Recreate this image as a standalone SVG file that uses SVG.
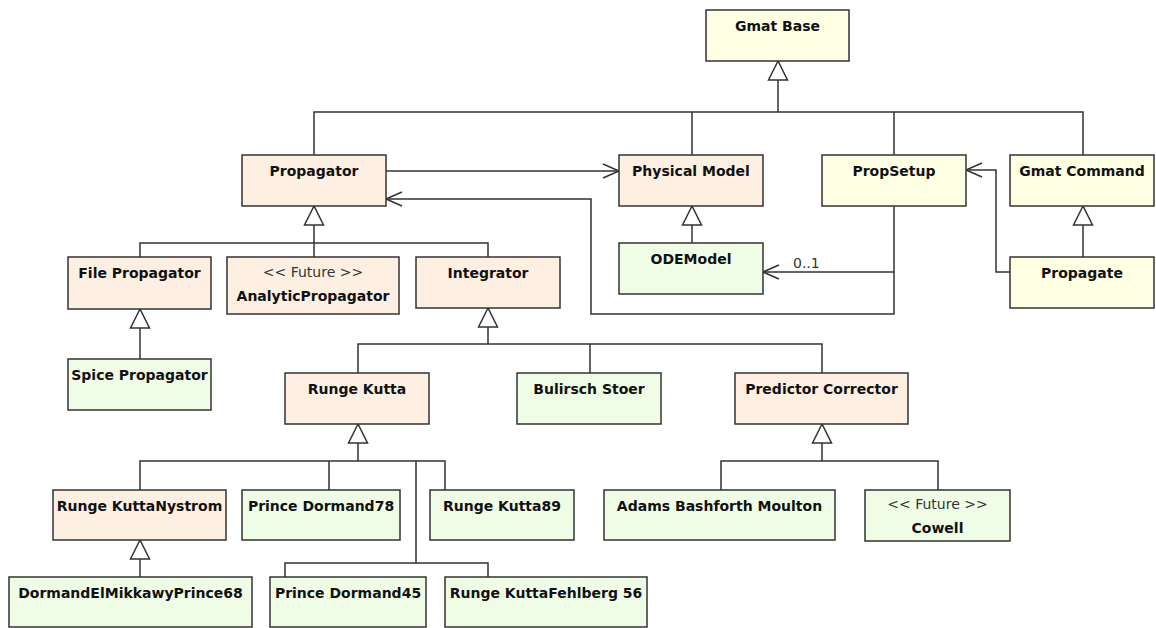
<svg xmlns="http://www.w3.org/2000/svg" width="1156" height="628" viewBox="0 0 1156 628">
  <defs>
    <style>
      .box { stroke: #333; stroke-width: 1.5; }
      .peach { fill: #FDF0E3; }
      .yellow { fill: #FFFFE3; }
      .green { fill: #F0FDE6; }
      .title { font-family: "DejaVu Sans", "Liberation Sans", sans-serif; font-weight: bold; font-size: 14px; fill: #111; text-anchor: middle; }
      .stereo { font-family: "DejaVu Sans", "Liberation Sans", sans-serif; font-size: 14px; fill: #333; text-anchor: middle; }
      .mult { font-family: "DejaVu Sans", "Liberation Sans", sans-serif; font-size: 14px; fill: #333; }
      .wire { fill: none; stroke: #333; stroke-width: 1.5; }
      .gen { fill: #fff; stroke: #333; stroke-width: 1.5; }
      .open { fill: none; stroke: #333; stroke-width: 1.5; }
    </style>
  </defs>
  <rect width="1156" height="628" fill="#fff"/>

  <!-- connectors -->
  <g id="connectors">
    <!-- inheritance from GmatBase -->
    <path class="wire" d="M314,155 V112 H1083 V155 M692,155 V112 M894,155 V112 M778,112 V80"/>
    <polygon class="gen" points="778,61 768.5,80 787.5,80"/>

    <!-- Propagator uses PhysicalModel -->
    <path class="wire" d="M386,171 H619"/>
    <polyline class="open" points="603,164 619,171 603,178"/>

    <!-- PropSetup references Propagator -->
    <path class="wire" d="M894,206 V314 H591 V199 H386"/>
    <polyline class="open" points="402,192 386,199 402,206"/>

    <!-- PropSetup references ODEModel -->
    <path class="wire" d="M894,272 H763"/>
    <polyline class="open" points="779,265 763,272 779,279"/>
    <text class="mult" x="793" y="268">0..1</text>

    <!-- Propagate references PropSetup -->
    <path class="wire" d="M1010,272 H996 V170 H966"/>
    <polyline class="open" points="982,163 966,170 982,177"/>

    <!-- GmatCommand <- Propagate -->
    <polygon class="gen" points="1083,206 1073.5,225 1092.5,225"/>
    <path class="wire" d="M1083,225 V257"/>

    <!-- PhysicalModel <- ODEModel -->
    <polygon class="gen" points="692,206 682.5,225 701.5,225"/>
    <path class="wire" d="M692,225 V243"/>

    <!-- Propagator subclasses -->
    <polygon class="gen" points="314,206 304.5,225 323.5,225"/>
    <path class="wire" d="M314,225 V257 M140,257 V243 H488 V257"/>

    <!-- FilePropagator <- SpicePropagator -->
    <polygon class="gen" points="140,309 130.5,328 149.5,328"/>
    <path class="wire" d="M140,328 V359"/>

    <!-- Integrator subclasses -->
    <polygon class="gen" points="488,308 478.5,327 497.5,327"/>
    <path class="wire" d="M488,327 V344 M358,373 V344 H822 V373 M590,344 V373"/>

    <!-- RungeKutta subclasses -->
    <polygon class="gen" points="358,424 348.5,443 367.5,443"/>
    <path class="wire" d="M358,443 V461 M140,490 V461 H445 V490 M329,461 V490 M416,461 V563 M285,577 V563 H488 V577"/>

    <!-- RungeKuttaNystrom <- DormandElMikkawyPrince68 -->
    <polygon class="gen" points="140,540 130.5,559 149.5,559"/>
    <path class="wire" d="M140,559 V577"/>

    <!-- PredictorCorrector subclasses -->
    <polygon class="gen" points="822,424 812.5,443 831.5,443"/>
    <path class="wire" d="M822,443 V461 M721,490 V461 H938 V490"/>
  </g>

  <!-- classes -->
  <g id="GmatBase">
    <rect class="box yellow" x="706" y="10" width="143" height="51"/>
    <text class="title" x="777.5" y="31">Gmat Base</text>
  </g>
  <g id="Propagator">
    <rect class="box peach" x="242" y="155" width="144" height="51"/>
    <text class="title" x="314" y="176">Propagator</text>
  </g>
  <g id="PhysicalModel">
    <rect class="box peach" x="619" y="155" width="144" height="51"/>
    <text class="title" x="691" y="176">Physical Model</text>
  </g>
  <g id="PropSetup">
    <rect class="box yellow" x="822" y="155" width="144" height="51"/>
    <text class="title" x="894" y="176">PropSetup</text>
  </g>
  <g id="GmatCommand">
    <rect class="box yellow" x="1010" y="155" width="144" height="51"/>
    <text class="title" x="1082" y="176">Gmat Command</text>
  </g>
  <g id="ODEModel">
    <rect class="box green" x="619" y="243" width="144" height="51"/>
    <text class="title" x="691" y="264">ODEModel</text>
  </g>
  <g id="Propagate">
    <rect class="box yellow" x="1010" y="257" width="144" height="51"/>
    <text class="title" x="1082" y="278">Propagate</text>
  </g>
  <g id="FilePropagator">
    <rect class="box peach" x="68" y="257" width="143" height="52"/>
    <text class="title" x="139.5" y="278">File Propagator</text>
  </g>
  <g id="AnalyticPropagator">
    <rect class="box peach" x="227" y="257" width="172" height="57"/>
    <text class="stereo" x="313" y="277">&lt;&lt; Future &gt;&gt;</text>
    <text class="title" x="313" y="301">AnalyticPropagator</text>
  </g>
  <g id="Integrator">
    <rect class="box peach" x="416" y="257" width="144" height="51"/>
    <text class="title" x="488" y="278">Integrator</text>
  </g>
  <g id="SpicePropagator">
    <rect class="box green" x="68" y="359" width="143" height="51"/>
    <text class="title" x="139.5" y="380">Spice Propagator</text>
  </g>
  <g id="RungeKutta">
    <rect class="box peach" x="285" y="373" width="144" height="51"/>
    <text class="title" x="357" y="394">Runge Kutta</text>
  </g>
  <g id="BulirschStoer">
    <rect class="box green" x="517" y="373" width="144" height="51"/>
    <text class="title" x="589" y="394">Bulirsch Stoer</text>
  </g>
  <g id="PredictorCorrector">
    <rect class="box peach" x="735" y="373" width="173" height="51"/>
    <text class="title" x="821.5" y="394">Predictor Corrector</text>
  </g>
  <g id="RungeKuttaNystrom">
    <rect class="box peach" x="53" y="490" width="173" height="50"/>
    <text class="title" x="139.5" y="511">Runge KuttaNystrom</text>
  </g>
  <g id="PrinceDormand78">
    <rect class="box green" x="242" y="490" width="158" height="50"/>
    <text class="title" x="321" y="511">Prince Dormand78</text>
  </g>
  <g id="RungeKutta89">
    <rect class="box green" x="430" y="490" width="144" height="50"/>
    <text class="title" x="502" y="511">Runge Kutta89</text>
  </g>
  <g id="AdamsBashforthMoulton">
    <rect class="box green" x="604" y="490" width="231" height="50"/>
    <text class="title" x="719.5" y="511">Adams Bashforth Moulton</text>
  </g>
  <g id="Cowell">
    <rect class="box green" x="865" y="490" width="145" height="51"/>
    <text class="stereo" x="937.5" y="509">&lt;&lt; Future &gt;&gt;</text>
    <text class="title" x="937.5" y="533">Cowell</text>
  </g>
  <g id="DormandElMikkawyPrince68">
    <rect class="box green" x="9" y="577" width="243" height="50"/>
    <text class="title" x="130.5" y="598">DormandElMikkawyPrince68</text>
  </g>
  <g id="PrinceDormand45">
    <rect class="box green" x="270" y="577" width="156" height="50"/>
    <text class="title" x="348" y="598">Prince Dormand45</text>
  </g>
  <g id="RungeKuttaFehlberg56">
    <rect class="box green" x="445" y="577" width="202" height="50"/>
    <text class="title" x="546" y="598">Runge KuttaFehlberg 56</text>
  </g>
</svg>
